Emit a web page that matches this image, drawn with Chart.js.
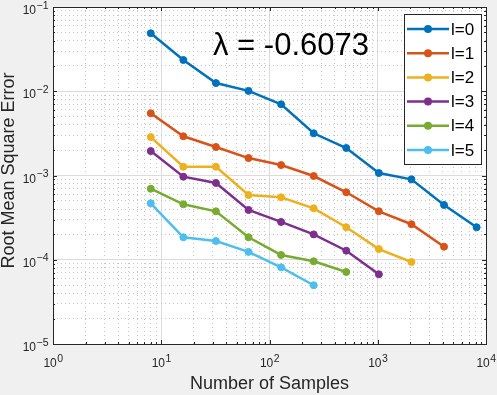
<!DOCTYPE html>
<html>
<head>
<meta charset="utf-8">
<script src="https://cdn.jsdelivr.net/npm/chart.js@4.4.1/dist/chart.umd.min.js"></script>
<style>
  html, body { margin: 0; padding: 0; background: #f0f0f0; }
  #wrap { width: 497px; height: 395px; position: relative; }
</style>
</head>
<body>
<div id="wrap"><canvas id="chart"></canvas></div>
<script>
// RMSE vs number of samples, one series per level l
const samples = [8, 16, 32, 64, 128, 256, 512, 1024, 2048, 4096, 8192];
const seriesNames = ['l=0', 'l=1', 'l=2', 'l=3', 'l=4', 'l=5'];
const rmseL0 = [0.0488, 0.0235, 0.0125, 0.0101, 0.0070, 0.00317, 0.00212, 0.00107, 0.00090, 0.000447, 0.000243];
const rmseL1 = [0.00547, 0.00292, 0.00218, 0.00161, 0.00133, 0.000986, 0.000632, 0.000376, 0.000264, 0.000143];
const rmseL2 = [0.00286, 0.00127, 0.00127, 0.000587, 0.000551, 0.000408, 0.000243, 0.000134, 0.0000940];
const rmseL3 = [0.00195, 0.000968, 0.000815, 0.000390, 0.000281, 0.000200, 0.000128, 0.0000672];
const rmseL4 = [0.000697, 0.000455, 0.000376, 0.000185, 0.000114, 0.0000959, 0.0000716];
const rmseL5 = [0.000468, 0.000185, 0.000167, 0.000124, 0.0000813, 0.0000498];
const seriesColors = ['#0072BD', '#D95319', '#EDB120', '#7E2F8E', '#77AC30', '#4DBEEE'];
const xTickExps = [0, 1, 2, 3, 4];
const yTickExps = [-5, -4, -3, -2, -1];
const xTitle = 'Number of Samples';
const yTitle = 'Root Mean Square Error';
const note = 'λ = -0.6073';

const FONT = '"Liberation Sans", Arial, Helvetica, sans-serif';
const AXIS_COLOR = '#262626';

const allSeries = [rmseL0, rmseL1, rmseL2, rmseL3, rmseL4, rmseL5];

// n * 10^k ticks so grid lines sit where matlab puts them
function logTicks(e0, e1) {
  const out = [];
  for (let e = e0; e <= e1; e++) {
    const n = e === e1 ? 1 : 9;
    for (let m = 1; m <= n; m++) out.push({ value: +(m * Math.pow(10, e)).toPrecision(6) });
  }
  return out;
}
function isDecade(v) {
  const l = Math.log10(v);
  return Math.abs(l - Math.round(l)) < 1e-6;
}

const datasets = allSeries.map((vals, i) => ({
  label: seriesNames[i],
  data: vals.map((y, j) => ({ x: samples[j], y })),
  borderColor: seriesColors[i],
  backgroundColor: seriesColors[i],
  pointBackgroundColor: seriesColors[i],
  pointBorderColor: seriesColors[i],
  borderWidth: 2.5,
  pointRadius: 3.5,
  pointBorderWidth: 1,
  tension: 0,
}));

function gridScale(kind, axis, min, max, e0, e1) {
  const major = kind === 'major';
  return {
    type: 'logarithmic',
    axis: axis,
    position: axis === 'x' ? 'bottom' : 'left',
    min: min, max: max,
    afterBuildTicks: s => { s.ticks = logTicks(e0, e1); },
    ticks: { display: false },
    grid: {
      drawTicks: false,
      lineWidth: 1,
      color: c => {
        const d = c.tick && isDecade(c.tick.value);
        if (major) return d ? '#dcdcdc' : 'rgba(0,0,0,0)';
        return d ? 'rgba(0,0,0,0)' : '#c6c6c6';
      },
    },
    border: { display: false, dash: major ? [] : [1, 3] },
    title: { display: false },
  };
}

function drawPow(ctx, x, y, exp, align) {
  const base = '10';
  const sup = exp < 0 ? '\u2212' + Math.abs(exp) : String(exp);
  ctx.font = '12px ' + FONT;
  const wb = ctx.measureText(base).width;
  ctx.font = '10.5px ' + FONT;
  const ws = ctx.measureText(sup).width;
  const x0 = align === 'center' ? x - (wb + ws) / 2 : x - wb - ws;
  ctx.textAlign = 'left';
  ctx.textBaseline = 'alphabetic';
  ctx.font = '12px ' + FONT;
  ctx.fillText(base, x0, y);
  ctx.font = '10.5px ' + FONT;
  ctx.fillText(sup, x0 + wb + 0.5, y - 5.5);
}

const matlabFrame = {
  id: 'matlabFrame',
  beforeDraw(chart) {
    const { ctx, chartArea: a } = chart;
    ctx.save();
    ctx.fillStyle = '#f0f0f0';
    ctx.fillRect(0, 0, chart.width, chart.height);
    ctx.fillStyle = '#ffffff';
    ctx.fillRect(a.left, a.top, a.right - a.left, a.bottom - a.top);
    ctx.restore();
  },
  afterDatasetsDraw(chart) {
    const { ctx, chartArea: a } = chart;
    const xs = chart.scales.x, ys = chart.scales.y;
    ctx.save();

    // inward tick marks on all four sides
    ctx.strokeStyle = AXIS_COLOR;
    ctx.lineWidth = 1;
    ctx.beginPath();
    xs.ticks.forEach(t => {
      const px = Math.round(xs.getPixelForValue(t.value)) + 0.5;
      const len = isDecade(t.value) ? 4 : 2;
      ctx.moveTo(px, a.bottom); ctx.lineTo(px, a.bottom - len);
      ctx.moveTo(px, a.top); ctx.lineTo(px, a.top + len);
    });
    ys.ticks.forEach(t => {
      const py = Math.round(ys.getPixelForValue(t.value)) + 0.5;
      const len = isDecade(t.value) ? 4 : 2;
      ctx.moveTo(a.left, py); ctx.lineTo(a.left + len, py);
      ctx.moveTo(a.right, py); ctx.lineTo(a.right - len, py);
    });
    ctx.stroke();

    // axes box
    ctx.strokeRect(a.left + 0.5, a.top + 0.5, a.right - a.left, a.bottom - a.top);

    // tick labels
    ctx.fillStyle = AXIS_COLOR;
    xTickExps.forEach(e => {
      const px = xs.getPixelForValue(Math.pow(10, e));
      drawPow(ctx, px, a.bottom + 23, e, 'center');
    });
    yTickExps.forEach(e => {
      const py = ys.getPixelForValue(Math.pow(10, e));
      drawPow(ctx, a.left - 5, py + 7, e, 'right');
    });

    // axis titles
    ctx.font = '18px ' + FONT;
    ctx.textAlign = 'center';
    ctx.textBaseline = 'alphabetic';
    ctx.fillText(xTitle, (a.left + a.right) / 2, 389);
    ctx.save();
    ctx.translate(14, 170.5);
    ctx.rotate(-Math.PI / 2);
    ctx.fillText(yTitle, 0, 0);
    ctx.restore();

    // annotation
    ctx.fillStyle = '#000000';
    ctx.font = '31px ' + FONT;
    ctx.textAlign = 'left';
    ctx.fillText(note, 213, 55);

    // legend box
    const lx = 404, ly = 14, lw = 77, lh = 150;
    ctx.fillStyle = '#ffffff';
    ctx.fillRect(lx, ly, lw, lh);
    ctx.strokeStyle = AXIS_COLOR;
    ctx.strokeRect(lx + 0.5, ly + 0.5, lw, lh);
    chart.data.datasets.forEach((ds, i) => {
      const cy = 29 + i * 24.2;
      ctx.strokeStyle = ds.borderColor;
      ctx.lineWidth = 2.5;
      ctx.beginPath();
      ctx.moveTo(407, cy); ctx.lineTo(449, cy);
      ctx.stroke();
      ctx.fillStyle = ds.borderColor;
      ctx.beginPath();
      ctx.arc(428, cy, 4, 0, Math.PI * 2);
      ctx.fill();
      ctx.fillStyle = '#000000';
      ctx.font = '17px ' + FONT;
      ctx.textBaseline = 'middle';
      ctx.fillText(ds.label, 451, cy + 1);
      ctx.textBaseline = 'alphabetic';
    });
    ctx.restore();
  },
};

new Chart(document.getElementById('chart'), {
  type: 'line',
  data: { datasets },
  options: {
    responsive: true,
    maintainAspectRatio: false,
    animation: false,
    layout: { padding: { left: 53, top: 7, right: 11, bottom: 51 } },
    plugins: { legend: { display: false }, tooltip: { enabled: false } },
    scales: {
      x: gridScale('major', 'x', 1, 1e4, 0, 4),
      xMinor: gridScale('minor', 'x', 1, 1e4, 0, 4),
      y: gridScale('major', 'y', 1e-5, 1e-1, -5, -1),
      yMinor: gridScale('minor', 'y', 1e-5, 1e-1, -5, -1),
    },
  },
  plugins: [matlabFrame],
});
</script>
</body>
</html>
